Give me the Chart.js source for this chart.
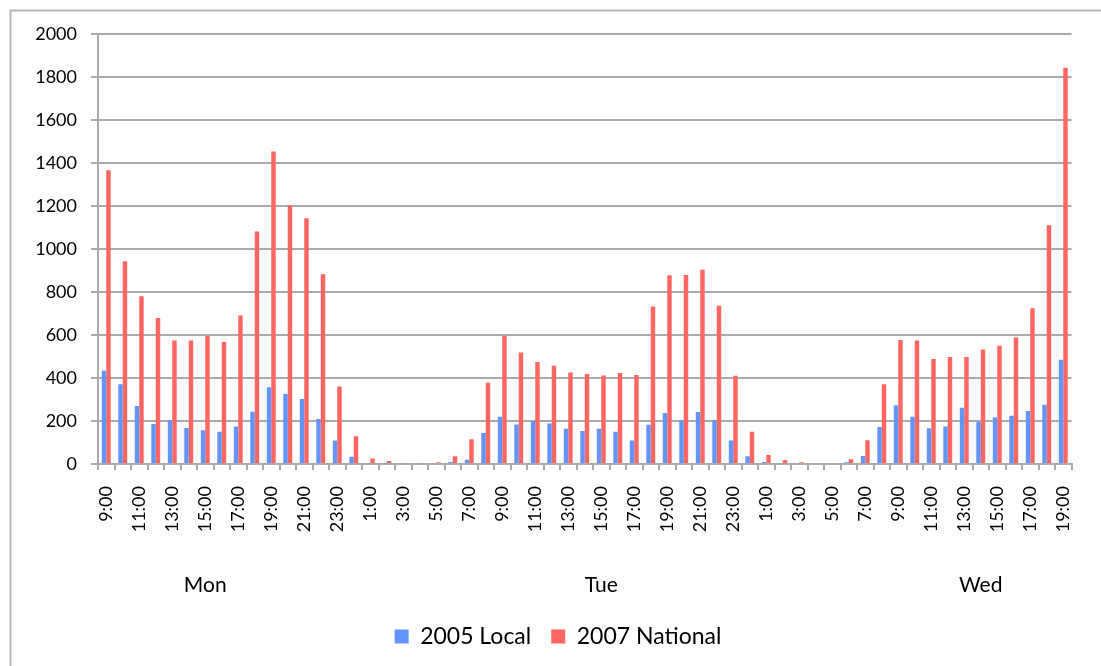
<!DOCTYPE html>
<html>
<head>
<meta charset="utf-8">
<title>Hourly volume</title>
<script src="https://cdn.jsdelivr.net/npm/chart.js@4/dist/chart.umd.min.js"></script>
<style>
  html, body { margin: 0; padding: 0; background: #fff; }
  canvas { display: block; }
</style>
</head>
<body>
<canvas id="chart" width="1101" height="666"></canvas>
<script>
// hourly slots, Mon 9:00 through Wed 19:00
const HOURS = [
  '9:00','10:00','11:00','12:00','13:00','14:00','15:00','16:00','17:00','18:00','19:00','20:00','21:00','22:00','23:00',
  '0:00','1:00','2:00','3:00','4:00','5:00','6:00','7:00','8:00','9:00','10:00','11:00','12:00','13:00','14:00',
  '15:00','16:00','17:00','18:00','19:00','20:00','21:00','22:00','23:00',
  '0:00','1:00','2:00','3:00','4:00','5:00','6:00','7:00','8:00','9:00','10:00','11:00','12:00','13:00','14:00',
  '15:00','16:00','17:00','18:00','19:00'
];

const LOCAL_2005 = [
  434, 371, 270, 186, 205, 167, 157, 150, 174, 243, 357, 326, 302, 209, 109,
  34, 4, 2, 0, 0, 0, 9, 20, 144, 220, 184, 200, 188, 164, 153,
  164, 150, 109, 183, 237, 202, 242, 205, 109,
  36, 9, 0, 0, 0, 0, 8, 37, 172, 273, 220, 166, 174, 262, 198,
  216, 225, 247, 276, 485
];

const NATIONAL_2007 = [
  1366, 943, 780, 679, 574, 575, 595, 567, 691, 1081, 1454, 1202, 1143, 882, 361,
  129, 26, 14, 4, 4, 8, 36, 115, 378, 597, 519, 474, 457, 426, 419,
  412, 423, 414, 733, 878, 879, 904, 736, 411,
  150, 42, 19, 8, 0, 5, 22, 110, 371, 577, 574, 488, 498, 498, 533,
  550, 588, 724, 1110, 1843
];

// day captions under the hour axis, anchored to a slot index
const DAYS = ['Mon', 'Tue', 'Wed'];
const DAY_SLOTS = [6, 30, 53];

const Y_MAX = 2000;
const Y_STEP = 200;

const FONT = 'Lato, "Open Sans", sans-serif';
const GRID = '#aaaaaa';

const frame = {
  id: 'frame',
  beforeDraw(chart) {
    const ctx = chart.ctx;
    ctx.save();
    ctx.strokeStyle = '#b5b5b5';
    ctx.lineWidth = 2;
    ctx.strokeRect(10.5, 10.5, 1200, 800);
    ctx.restore();
  }
};

const dayLabels = {
  id: 'dayLabels',
  afterDraw(chart) {
    const ctx = chart.ctx;
    const x = chart.scales.x;
    ctx.save();
    ctx.font = '21px ' + FONT;
    ctx.fillStyle = '#000';
    ctx.textAlign = 'center';
    ctx.textBaseline = 'middle';
    DAYS.forEach((d, i) => {
      ctx.fillText(d, x.getPixelForValue(DAY_SLOTS[i]), chart.chartArea.bottom + 121);
    });
    ctx.restore();
  }
};

new Chart(document.getElementById('chart'), {
  type: 'bar',
  data: {
    labels: HOURS,
    datasets: [
      { label: '2005 Local', data: LOCAL_2005, backgroundColor: '#6394fa' },
      { label: '2007 National', data: NATIONAL_2007, backgroundColor: '#ff6561' },
    ],
  },
  options: {
    responsive: false,
    animation: false,
    layout: { padding: { left: 32, right: 17, top: 34, bottom: 8 } },
    datasets: { bar: { categoryPercentage: 0.54, barPercentage: 1.0 } },
    plugins: {
      legend: {
        position: 'bottom',
        labels: {
          font: { family: FONT, size: 23 },
          color: '#000',
          boxWidth: 14,
          boxHeight: 14,
          padding: 20,
        },
      },
      tooltip: { enabled: false },
    },
    scales: {
      x: {
        afterFit: s => { s.height = 141; },
        grid: { drawOnChartArea: false, drawTicks: true, tickLength: 6, color: GRID, lineWidth: 2 },
        border: { color: GRID, width: 2 },
        ticks: {
          autoSkip: false,
          minRotation: 90,
          maxRotation: 90,
          padding: 16,
          color: '#000',
          font: { family: FONT, size: 18 },
          callback: (v, i) => (i % 2 === 0 ? HOURS[i] : ''),
        },
      },
      y: {
        min: 0,
        max: Y_MAX,
        afterFit: s => { s.width = 66; },
        grid: { color: GRID, lineWidth: 2, tickLength: 7 },
        border: { color: GRID, width: 2 },
        ticks: {
          stepSize: Y_STEP,
          padding: 14,
          color: '#000',
          font: { family: FONT, size: 18 },
          callback: v => String(v),
        },
      },
    },
  },
  plugins: [frame, dayLabels],
});
</script>
</body>
</html>
